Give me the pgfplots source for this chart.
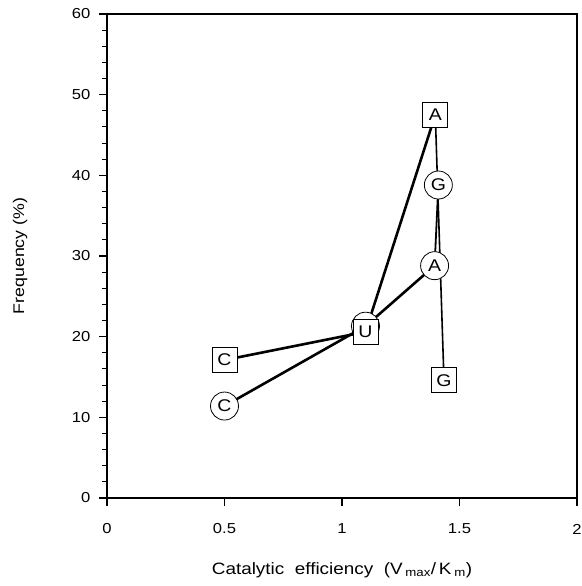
\documentclass[border=0pt]{standalone}
\usepackage{pgfplots}
\pgfplotsset{compat=1.18}
\usepackage{fontspec}
\setmainfont{Liberation Sans}[FakeStretch=1.15]
\begin{document}
\begin{tikzpicture}
\begin{axis}[
  at={(0,0)}, anchor=south west,
  width=470bp, height=484bp, scale only axis,
  xmin=0, xmax=2, ymin=0, ymax=60,
  xtick={0,0.5,1,1.5,2}, ytick={0,10,...,60},
  minor y tick num=4,
  xtick pos=bottom, ytick pos=left, tick align=outside,
  major tick length=8bp, minor tick length=4.5bp,
  axis line style={line width=1.6pt},
  tick style={line width=1.1pt, black},
  /pgf/number format/assume math mode=true,
  ticklabel style={font=\fontsize{14.5}{16}\selectfont},
  xticklabel style={anchor=center, yshift=-23bp},
  yticklabel style={anchor=east, xshift=-5bp},
  xlabel={Catalytic\ \ efficiency\ \ (V\,\textsubscript{max}/\,K\,\textsubscript{m})},
  xlabel style={at={(axis description cs:0.5,-0.149)}, anchor=center,
    font=\fontsize{16.5}{19}\selectfont},
  ylabel={Frequency (\%)},
  ylabel style={at={(axis description cs:-0.185,0.5)}, anchor=center,
    font=\fontsize{15.5}{18}\selectfont},
  clip=false,
  nodes near coords align=center,
  every node near coord/.append style={anchor=center, draw, fill=white,
    inner sep=0pt, line width=0.8pt, text=black,
    font=\fontsize{17}{19}\selectfont},
]
% connecting lines
\addplot[black, line width=2.6pt, mark=none] coordinates {
  (0.5,11.4) (1.1,21.3) (1.394,28.8)};
\addplot[black, line width=1.8pt, mark=none] coordinates {
  (1.394,28.8) (1.41,38.8)};
\addplot[black, line width=2.6pt, mark=none] coordinates {
  (0.5,17.1) (1.1,20.6) (1.397,47.5)};
\addplot[black, line width=1.6pt, mark=none] coordinates {
  (1.397,47.5) (1.434,14.6)};
% circle labels
\addplot[draw=none, mark=none, nodes near coords, point meta=explicit symbolic,
  every node near coord/.append style={circle, minimum size=28bp}] coordinates {
  (0.5,11.4) [C] (1.1,21.3) [U] (1.394,28.8) [A] (1.41,38.8) [G]};
% square labels
\addplot[draw=none, mark=none, nodes near coords, point meta=explicit symbolic,
  every node near coord/.append style={rectangle, minimum size=25bp}] coordinates {
  (0.5,17.1) [C] (1.1,20.6) [U] (1.397,47.5) [A] (1.434,14.6) [G]};
\end{axis}
\pgfresetboundingbox
\path (-107bp,-88bp) rectangle (475bp,498bp);
\end{tikzpicture}
\end{document}
